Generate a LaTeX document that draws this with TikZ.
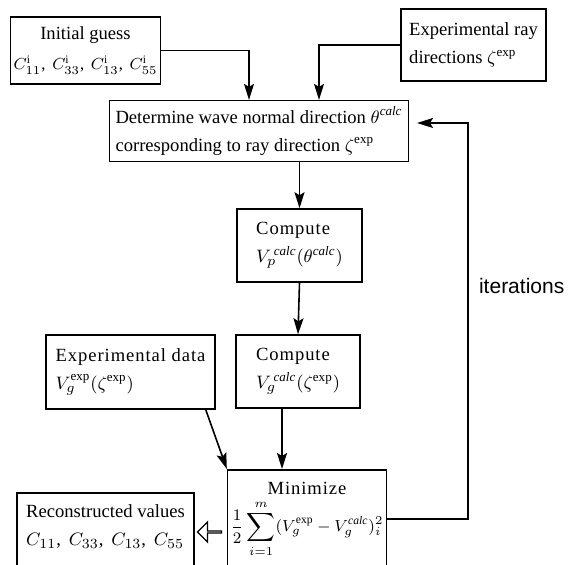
\documentclass[tikz,border=0pt]{standalone}
\usepackage{fontspec}
\setmainfont{Liberation Serif}
\newfontfamily\spaced[LetterSpace=5]{Liberation Serif}
\newfontfamily\plainsans{Liberation Sans}
\usetikzlibrary{arrows.meta,shapes.arrows}
\newcommand{\calcsup}{\mathit{calc}}

\begin{document}
\begin{tikzpicture}[x=0.5pt, y=-0.5pt,
    box/.style={draw, line width=0.75pt, align=left, inner sep=3pt, font=\fontsize{9.3}{14}\selectfont},
    arr/.style={-{Stealth[length=8pt, width=5pt, inset=1.5pt]}, line width=0.8pt}]
          \useasboundingbox (0,0) rectangle (571,565);
          \clip (0,0) rectangle (571,565);

          \node[box, align=center, minimum width=71.5pt, minimum height=33.5pt, inner xsep=1.5pt] (1) at (85.5,50.5)
               {Initial guess\\[1pt] \fontsize{8.2}{14}\selectfont $C_{11}^{\mathrm{i}}$,\, $C_{33}^{\mathrm{i}}$,\, $C_{13}^{\mathrm{i}}$,\, $C_{55}^{\mathrm{i}}$};
          \node[box, minimum width=72.5pt, minimum height=36pt] (2) at (473.5,45)
               {Experimental ray\\ directions $\zeta^{\exp}$};
          \node[box, minimum width=146pt, minimum height=29.5pt] (3) at (259,131)
               {Determine wave normal direction $\theta^{\calcsup}$\\ corresponding to ray direction $\zeta^{\exp}$};
          \node[box, minimum width=62.5pt, minimum height=36.5pt] (4) at (299.5,245.5)
               {{\spaced Compute}\\ $V_p^{\,\calcsup}(\theta^{\calcsup})$};
          \node[box, minimum width=62pt, minimum height=36.5pt] (5) at (298,371.5)
               {{\spaced Compute}\\ $V_g^{\,\calcsup}(\zeta^{\exp})$};
          \node[box, minimum width=84.5pt, minimum height=37pt] (6) at (130.5,372)
               {{\spaced Experimental data}\\ $V_g^{\exp}(\zeta^{\exp})$};
          \node[box, align=center, anchor=north, minimum width=78pt, inner ysep=6pt, inner xsep=1.5pt] (7) at (307,469)
               {{\spaced Minimize}\\[2pt] \fontsize{8.3}{14}\selectfont $\displaystyle\frac{1}{2}\sum_{i=1}^{m}(V_g^{\exp}-V_g^{\calcsup})_i^{2}$\\ \rule{0pt}{20pt}};
          \node[box, anchor=north, minimum width=88.5pt, inner ysep=6pt] (8) at (105.5,492)
               {Reconstructed values\\ $C_{11}$,\, $C_{33}$,\, $C_{13}$,\, $C_{55}$\\ \rule{0pt}{20pt}};
          \node[draw, single arrow, shape border rotate=180, line width=0.6pt, inner sep=0pt,
                minimum height=12pt, minimum width=10pt, single arrow head extend=2.5pt] (9) at (210,532) {};
          \node[anchor=west, font=\plainsans\fontsize{10.5}{12}\selectfont] (10) at (472,286) {iterations};

          \coordinate (top) at (468,123);
          \coordinate (back) at (417,123);

          \draw[arr] (1.east) -| ([xshift=-5pt]3.north);
          \draw[arr] (2.west) -| ([xshift=30pt]3.north);
          \draw[arr] (3.south -| 4.north) -- (4.north);
          \draw[arr] (4.south) -- (5.north);
          \draw[arr] ([xshift=-8pt]5.south) -- ([xshift=-8pt]5.south |- 7.north);
          \draw[arr] ([xshift=-5pt]6.south east) -- (7.north west);
          \draw[arr] ([yshift=-25pt]7.north east) -| (top) -- (back);
    \end{tikzpicture}
\end{document}
